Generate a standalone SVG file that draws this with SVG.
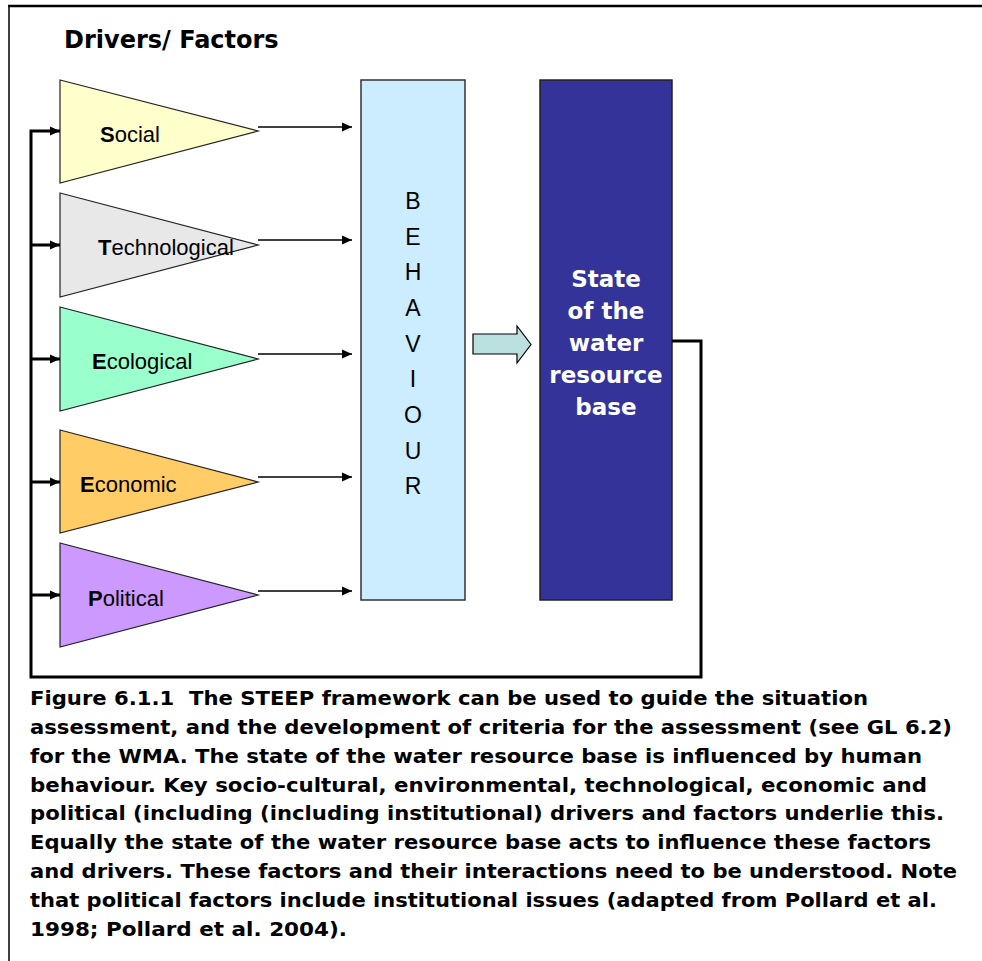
<svg xmlns="http://www.w3.org/2000/svg" width="982" height="961" viewBox="0 0 982 961">
  <style>
    .tri { stroke: #222; stroke-width: 1.2; }
    .lbl { font-family: "Liberation Sans", Arial, sans-serif; font-size: 22px; fill: #000; }
    .lbl tspan.b { font-weight: bold; }
    .beh { font-family: "Liberation Sans", Arial, sans-serif; font-size: 23px; fill: #000; text-anchor: middle; }
    .state { font-family: "DejaVu Sans", Verdana, sans-serif; font-weight: bold; font-size: 23px; fill: #fff; text-anchor: middle; }
    .title { font-family: "DejaVu Sans", Verdana, sans-serif; font-weight: bold; font-size: 24px; fill: #000; }
    .cap { font-family: "DejaVu Sans", Verdana, sans-serif; font-weight: bold; font-size: 19.5px; fill: #000; }
    .thin { fill: none; stroke: #000; stroke-width: 1.5; }
    .thick { fill: none; stroke: #000; stroke-width: 3; }
  </style>
  <defs>
    <marker id="headThin" viewBox="0 0 10 10" refX="10" refY="5" markerWidth="10" markerHeight="10" markerUnits="userSpaceOnUse" orient="auto">
      <path d="M0,0.5 L10,5 L0,9.5 Z" fill="#000"/>
    </marker>
    <marker id="headThick" viewBox="0 0 10 10" refX="10" refY="5" markerWidth="10" markerHeight="10" markerUnits="userSpaceOnUse" orient="auto">
      <path d="M0,0.5 L10,5 L0,9.5 Z" fill="#000"/>
    </marker>
  </defs>

  <rect width="982" height="961" fill="#fff"/>

  <!-- page frame -->
  <line x1="8" y1="6" x2="982" y2="6" stroke="#000" stroke-width="2.5"/>
  <line x1="9" y1="5" x2="9" y2="961" stroke="#000" stroke-width="1.5"/>

  <text class="title" x="64" y="48">Drivers/ Factors</text>

  <!-- driver triangles -->
  <g id="social">
    <polygon class="tri" points="60,80 258,131 60,183" fill="#FFFFCC"/>
    <text class="lbl" x="100" y="142"><tspan class="b">S</tspan>ocial</text>
  </g>
  <g id="technological">
    <polygon class="tri" points="60,193 258,245 60,297" fill="#E8E8E8"/>
    <text class="lbl" x="98" y="255"><tspan class="b">T</tspan>echnological</text>
  </g>
  <g id="ecological">
    <polygon class="tri" points="60,307 258,359 60,411" fill="#99FFCC"/>
    <text class="lbl" x="92" y="369"><tspan class="b">E</tspan>cological</text>
  </g>
  <g id="economic">
    <polygon class="tri" points="60,430 258,482 60,533" fill="#FFCC66"/>
    <text class="lbl" x="80" y="492"><tspan class="b">E</tspan>conomic</text>
  </g>
  <g id="political">
    <polygon class="tri" points="60,543 258,595 60,647" fill="#CC99FF"/>
    <text class="lbl" x="88" y="606"><tspan class="b">P</tspan>olitical</text>
  </g>

  <!-- behaviour column -->
  <g id="behaviour">
    <rect x="361" y="80" width="104" height="520" fill="#CCECFF" stroke="#333" stroke-width="1.5"/>
    <text class="beh" x="413" y="209">B</text>
    <text class="beh" x="413" y="245">E</text>
    <text class="beh" x="413" y="280">H</text>
    <text class="beh" x="413" y="316">A</text>
    <text class="beh" x="413" y="352">V</text>
    <text class="beh" x="413" y="387">I</text>
    <text class="beh" x="413" y="423">O</text>
    <text class="beh" x="413" y="459">U</text>
    <text class="beh" x="413" y="494">R</text>
  </g>

  <!-- state of the water resource base -->
  <g id="state">
    <rect x="540" y="80" width="132" height="520" fill="#333399" stroke="#222" stroke-width="1.5"/>
    <text class="state" x="606" y="287">State</text>
    <text class="state" x="606" y="319">of the</text>
    <text class="state" x="606" y="351">water</text>
    <text class="state" x="606" y="383">resource</text>
    <text class="state" x="606" y="415">base</text>
  </g>

  <!-- connectors -->
  <g id="connectors">
    <!-- drivers to behaviour -->
    <line class="thin" x1="258" y1="127" x2="352" y2="127" marker-end="url(#headThin)"/>
    <line class="thin" x1="258" y1="240" x2="352" y2="240" marker-end="url(#headThin)"/>
    <line class="thin" x1="258" y1="354" x2="352" y2="354" marker-end="url(#headThin)"/>
    <line class="thin" x1="258" y1="477" x2="352" y2="477" marker-end="url(#headThin)"/>
    <line class="thin" x1="258" y1="591" x2="352" y2="591" marker-end="url(#headThin)"/>

    <!-- behaviour to state -->
    <path d="M473,334 H517 V326 L531,344.5 L517,363 V354 H473 Z" fill="#BBE0E0" stroke="#000" stroke-width="1.2"/>

    <!-- feedback loop back to drivers -->
    <path class="thick" d="M672,341 H701 V677 H31 V131 H60" marker-end="url(#headThick)"/>
    <line class="thick" x1="31" y1="245" x2="60" y2="245" marker-end="url(#headThick)"/>
    <line class="thick" x1="31" y1="359" x2="60" y2="359" marker-end="url(#headThick)"/>
    <line class="thick" x1="31" y1="482" x2="60" y2="482" marker-end="url(#headThick)"/>
    <line class="thick" x1="31" y1="595" x2="60" y2="595" marker-end="url(#headThick)"/>
  </g>

  <!-- caption -->
  <g id="caption">
    <text class="cap" x="30" y="705" textLength="838" lengthAdjust="spacingAndGlyphs">Figure 6.1.1&#160; The STEEP framework can be used to guide the situation</text>
    <text class="cap" x="30" y="734" textLength="922" lengthAdjust="spacingAndGlyphs">assessment, and the development of criteria for the assessment (see GL 6.2)</text>
    <text class="cap" x="30" y="763" textLength="892" lengthAdjust="spacingAndGlyphs">for the WMA. The state of the water resource base is influenced by human</text>
    <text class="cap" x="30" y="792" textLength="897" lengthAdjust="spacingAndGlyphs">behaviour. Key socio-cultural, environmental, technological, economic and</text>
    <text class="cap" x="30" y="820" textLength="914" lengthAdjust="spacingAndGlyphs">political (including (including institutional) drivers and factors underlie this.</text>
    <text class="cap" x="30" y="849" textLength="901" lengthAdjust="spacingAndGlyphs">Equally the state of the water resource base acts to influence these factors</text>
    <text class="cap" x="30" y="878" textLength="927" lengthAdjust="spacingAndGlyphs">and drivers. These factors and their interactions need to be understood. Note</text>
    <text class="cap" x="30" y="907" textLength="907" lengthAdjust="spacingAndGlyphs">that political factors include institutional issues (adapted from Pollard et al.</text>
    <text class="cap" x="30" y="936" textLength="317" lengthAdjust="spacingAndGlyphs">1998; Pollard et al. 2004).</text>
  </g>
</svg>
